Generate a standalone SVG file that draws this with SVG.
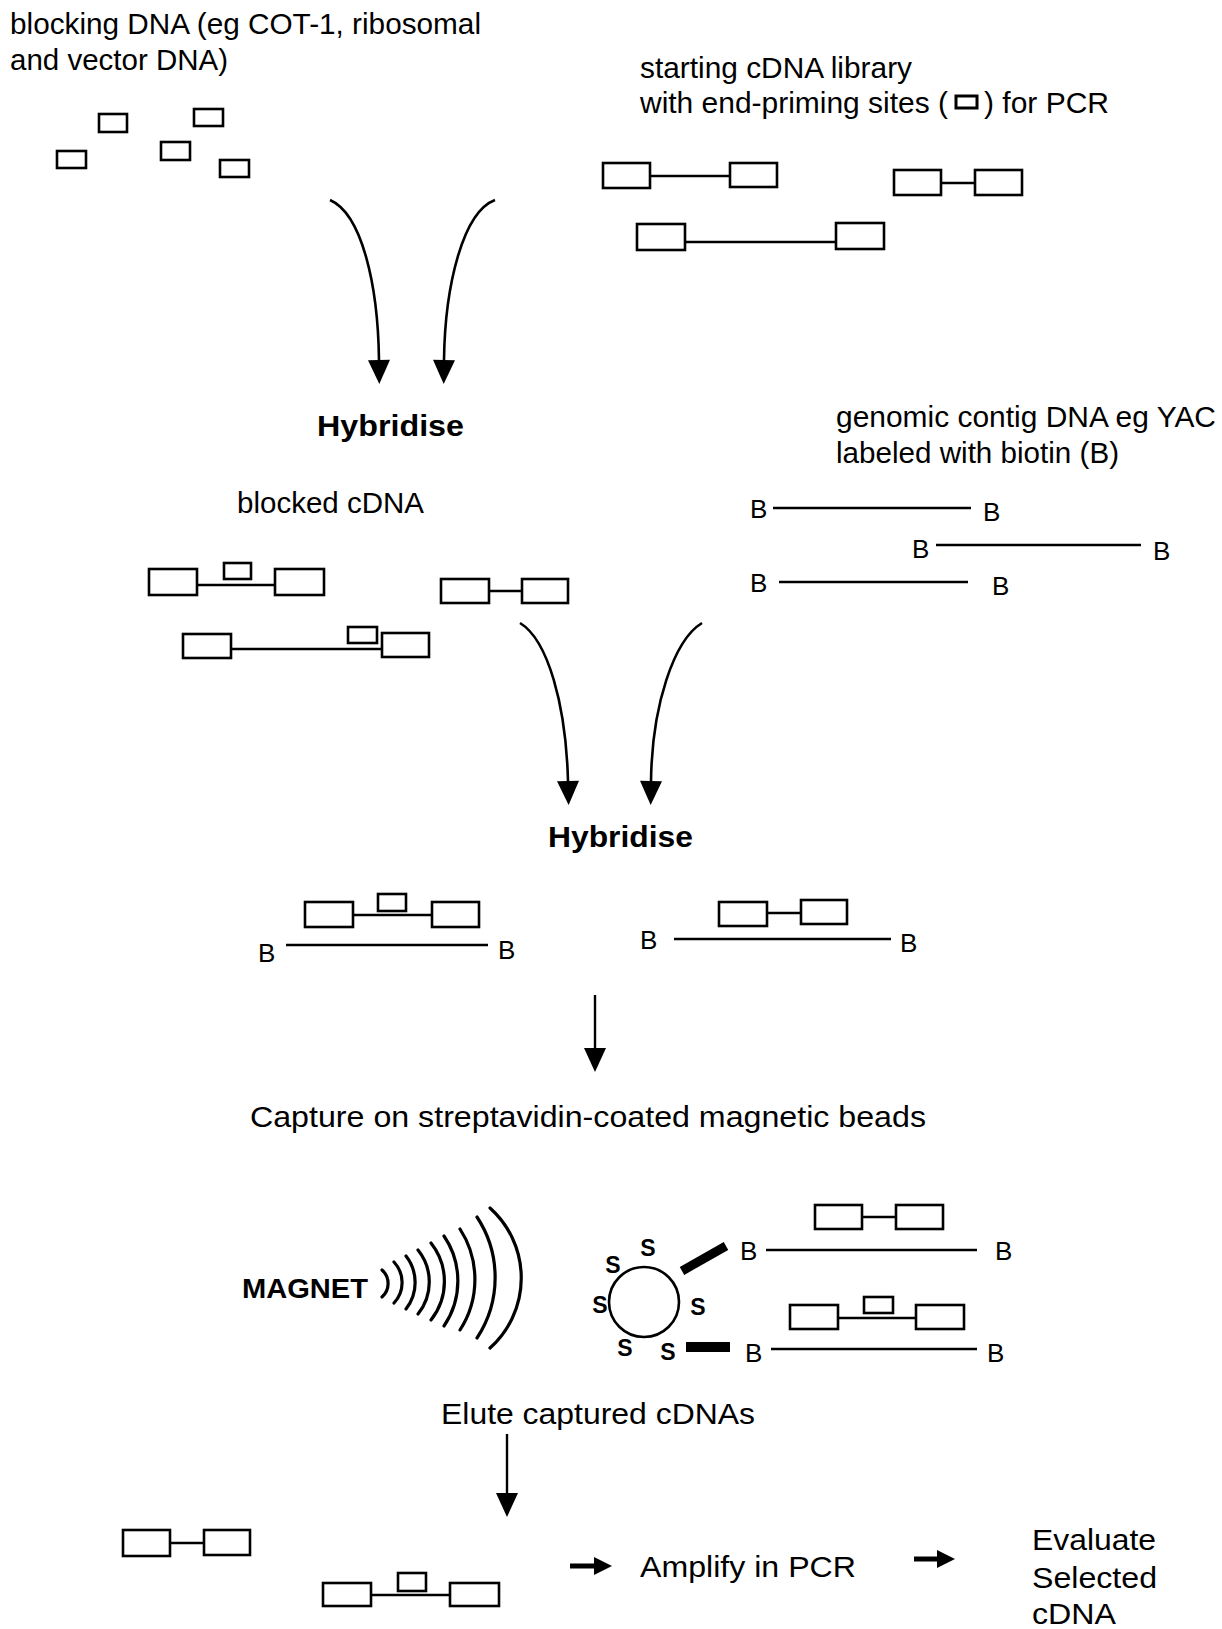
<svg xmlns="http://www.w3.org/2000/svg" width="1222" height="1629" viewBox="0 0 1222 1629">
<style>
text{font-family:"Liberation Sans",Arial,sans-serif;fill:#000}
.t{font-size:29px}
.b{font-size:29px;font-weight:bold}
.bl{font-size:26px}
.s{font-size:23px;font-weight:bold;text-anchor:middle}
.bx{fill:#fff;stroke:#000;stroke-width:2.6}
.ln{stroke:#000;stroke-width:2.4;fill:none}
.cv{stroke:#000;stroke-width:2.6;fill:none}
.arc{stroke:#000;stroke-width:3.2;fill:none;stroke-linecap:round}
</style>
<defs>
<marker id="ah" markerUnits="userSpaceOnUse" markerWidth="24" markerHeight="22" refX="0" refY="11" orient="auto" overflow="visible">
<path d="M0,0 L24,11 L0,22 z" fill="#000"/>
</marker>
<marker id="ahs" markerUnits="userSpaceOnUse" markerWidth="18" markerHeight="18" refX="0" refY="9" orient="auto" overflow="visible">
<path d="M0,0 L18,9 L0,18 z" fill="#000"/>
</marker>
</defs>
<rect width="1222" height="1629" fill="#fff"/>

<g id="blocking-dna">
<text class="t" x="10" y="34" textLength="471" lengthAdjust="spacingAndGlyphs">blocking DNA (eg COT-1, ribosomal</text>
<text class="t" x="10" y="70" textLength="218" lengthAdjust="spacingAndGlyphs">and vector DNA)</text>
<rect class="bx" x="99" y="114" width="28" height="18"/>
<rect class="bx" x="194" y="109" width="29" height="17"/>
<rect class="bx" x="57" y="151" width="29" height="17"/>
<rect class="bx" x="161" y="142" width="29" height="18"/>
<rect class="bx" x="220" y="160" width="29" height="17"/>
</g>

<g id="cdna-library">
<text class="t" x="640" y="78" textLength="272" lengthAdjust="spacingAndGlyphs">starting cDNA library</text>
<text class="t" x="640" y="113" textLength="308" lengthAdjust="spacingAndGlyphs">with end-priming sites (</text>
<rect x="956" y="96" width="21" height="12" fill="#fff" stroke="#000" stroke-width="3"/>
<text class="t" x="984" y="113" textLength="125" lengthAdjust="spacingAndGlyphs">) for PCR</text>
<line class="ln" x1="650" y1="176" x2="730" y2="176"/>
<rect class="bx" x="603" y="163" width="47" height="25"/>
<rect class="bx" x="730" y="163" width="47" height="24"/>
<line class="ln" x1="941" y1="183" x2="975" y2="183"/>
<rect class="bx" x="894" y="170" width="47" height="25"/>
<rect class="bx" x="975" y="170" width="47" height="25"/>
<line class="ln" x1="685" y1="242" x2="836" y2="242"/>
<rect class="bx" x="637" y="224" width="48" height="26"/>
<rect class="bx" x="836" y="223" width="48" height="26"/>
</g>

<g id="hybridise-1">
<text class="b" x="317" y="436" textLength="147" lengthAdjust="spacingAndGlyphs">Hybridise</text>
</g>

<g id="genomic-dna">
<text class="t" x="836" y="427" textLength="380" lengthAdjust="spacingAndGlyphs">genomic contig DNA eg YAC</text>
<text class="t" x="836" y="463" textLength="283" lengthAdjust="spacingAndGlyphs">labeled with biotin (B)</text>
<text class="bl" x="750" y="518">B</text>
<line class="ln" x1="773" y1="508" x2="971" y2="508"/>
<text class="bl" x="983" y="521">B</text>
<text class="bl" x="912" y="558">B</text>
<line class="ln" x1="936" y1="545" x2="1141" y2="545"/>
<text class="bl" x="1153" y="560">B</text>
<text class="bl" x="750" y="592">B</text>
<line class="ln" x1="779" y1="582" x2="968" y2="582"/>
<text class="bl" x="992" y="595">B</text>
</g>

<g id="blocked-cdna">
<text class="t" x="237" y="513" textLength="187" lengthAdjust="spacingAndGlyphs">blocked cDNA</text>
<line class="ln" x1="197" y1="585" x2="275" y2="585"/>
<rect class="bx" x="149" y="569" width="48" height="26"/>
<rect class="bx" x="275" y="569" width="49" height="26"/>
<rect class="bx" x="224" y="563" width="27" height="16"/>
<line class="ln" x1="489" y1="591" x2="522" y2="591"/>
<rect class="bx" x="441" y="579" width="48" height="24"/>
<rect class="bx" x="522" y="579" width="46" height="24"/>
<line class="ln" x1="231" y1="649" x2="382" y2="649"/>
<rect class="bx" x="183" y="634" width="48" height="24"/>
<rect class="bx" x="382" y="633" width="47" height="24"/>
<rect class="bx" x="348" y="627" width="29" height="16"/>
</g>

<g id="hybridise-2">
<text class="b" x="548" y="847" textLength="145" lengthAdjust="spacingAndGlyphs">Hybridise</text>
</g>

<g id="hybrids">
<line class="ln" x1="353" y1="915" x2="432" y2="915"/>
<rect class="bx" x="305" y="902" width="48" height="25"/>
<rect class="bx" x="432" y="902" width="47" height="25"/>
<rect class="bx" x="378" y="894" width="28" height="17"/>
<text class="bl" x="258" y="962">B</text>
<line class="ln" x1="286" y1="945" x2="488" y2="945"/>
<text class="bl" x="498" y="959">B</text>
<line class="ln" x1="767" y1="913" x2="801" y2="913"/>
<rect class="bx" x="719" y="902" width="48" height="24"/>
<rect class="bx" x="801" y="900" width="46" height="24"/>
<text class="bl" x="640" y="949">B</text>
<line class="ln" x1="674" y1="939" x2="891" y2="939"/>
<text class="bl" x="900" y="952">B</text>
</g>

<g id="capture-label">
<text class="t" x="250" y="1127" textLength="676" lengthAdjust="spacingAndGlyphs">Capture on streptavidin-coated magnetic beads</text>
</g>

<g id="magnet">
<text x="242" y="1298" font-size="27" font-weight="bold" textLength="126" lengthAdjust="spacingAndGlyphs">MAGNET</text>
<path class="arc" d="M382,1270 A18,18 0 0 1 382,1297"/>
<path class="arc" d="M394,1262 A30,30 0 0 1 394,1303"/>
<path class="arc" d="M406,1256 A43,43 0 0 1 406,1309"/>
<path class="arc" d="M418,1250 A51,51 0 0 1 418,1314"/>
<path class="arc" d="M431,1243 A62,62 0 0 1 431,1320"/>
<path class="arc" d="M444,1236 A80,80 0 0 1 444,1326"/>
<path class="arc" d="M460,1229 A93,93 0 0 1 460,1330"/>
<path class="arc" d="M477,1217 A110,110 0 0 1 477,1338"/>
<path class="arc" d="M490,1208 A94,94 0 0 1 490,1348"/>
</g>

<g id="bead">
<circle cx="644" cy="1302" r="35" fill="none" stroke="#000" stroke-width="2.6"/>
<text class="s" x="648" y="1256">S</text>
<text class="s" x="613" y="1273">S</text>
<text class="s" x="600" y="1313">S</text>
<text class="s" x="698" y="1315">S</text>
<text class="s" x="625" y="1356">S</text>
<text class="s" x="668" y="1360">S</text>
<line x1="682" y1="1271" x2="726" y2="1246" stroke="#000" stroke-width="9"/>
<rect x="686" y="1342" width="44" height="10" fill="#000"/>
</g>

<g id="captured-hybrids">
<line class="ln" x1="862" y1="1217" x2="896" y2="1217"/>
<rect class="bx" x="815" y="1205" width="47" height="24"/>
<rect class="bx" x="896" y="1205" width="47" height="24"/>
<text class="bl" x="740" y="1260">B</text>
<line class="ln" x1="766" y1="1250" x2="977" y2="1250"/>
<text class="bl" x="995" y="1260">B</text>
<line class="ln" x1="838" y1="1318" x2="916" y2="1318"/>
<rect class="bx" x="790" y="1305" width="48" height="24"/>
<rect class="bx" x="916" y="1305" width="48" height="24"/>
<rect class="bx" x="864" y="1297" width="29" height="16"/>
<text class="bl" x="745" y="1362">B</text>
<line class="ln" x1="771" y1="1349" x2="977" y2="1349"/>
<text class="bl" x="987" y="1362">B</text>
</g>

<g id="elute-label">
<text class="t" x="441" y="1424" textLength="314" lengthAdjust="spacingAndGlyphs">Elute captured cDNAs</text>
</g>

<g id="eluted-cdna">
<line class="ln" x1="170" y1="1543" x2="204" y2="1543"/>
<rect class="bx" x="123" y="1530" width="47" height="26"/>
<rect class="bx" x="204" y="1530" width="46" height="25"/>
<line class="ln" x1="371" y1="1595" x2="450" y2="1595"/>
<rect class="bx" x="323" y="1583" width="48" height="23"/>
<rect class="bx" x="450" y="1583" width="49" height="23"/>
<rect class="bx" x="398" y="1573" width="28" height="18"/>
</g>

<g id="amplify">
<text class="t" x="640" y="1577" textLength="216" lengthAdjust="spacingAndGlyphs">Amplify in PCR</text>
</g>

<g id="evaluate">
<text class="t" x="1032" y="1550" textLength="124" lengthAdjust="spacingAndGlyphs">Evaluate</text>
<text class="t" x="1032" y="1588" textLength="125" lengthAdjust="spacingAndGlyphs">Selected</text>
<text class="t" x="1032" y="1624" textLength="84" lengthAdjust="spacingAndGlyphs">cDNA</text>
</g>

<g id="connectors">
<path class="cv" d="M330,200 C362,214 378,285 379,360" marker-end="url(#ah)"/>
<path class="cv" d="M495,200 C463,212 445,285 444,360" marker-end="url(#ah)"/>
<path class="cv" d="M520,623 C548,640 566,705 568,781" marker-end="url(#ah)"/>
<path class="cv" d="M702,623 C674,640 652,705 651,781" marker-end="url(#ah)"/>
<line class="ln" x1="595" y1="995" x2="595" y2="1048" marker-end="url(#ah)"/>
<line class="ln" x1="507" y1="1434" x2="507" y2="1493" marker-end="url(#ah)"/>
<line x1="570" y1="1566" x2="594" y2="1566" stroke="#000" stroke-width="5" marker-end="url(#ahs)"/>
<line x1="914" y1="1559" x2="937" y2="1559" stroke="#000" stroke-width="5" marker-end="url(#ahs)"/>
</g>
</svg>
